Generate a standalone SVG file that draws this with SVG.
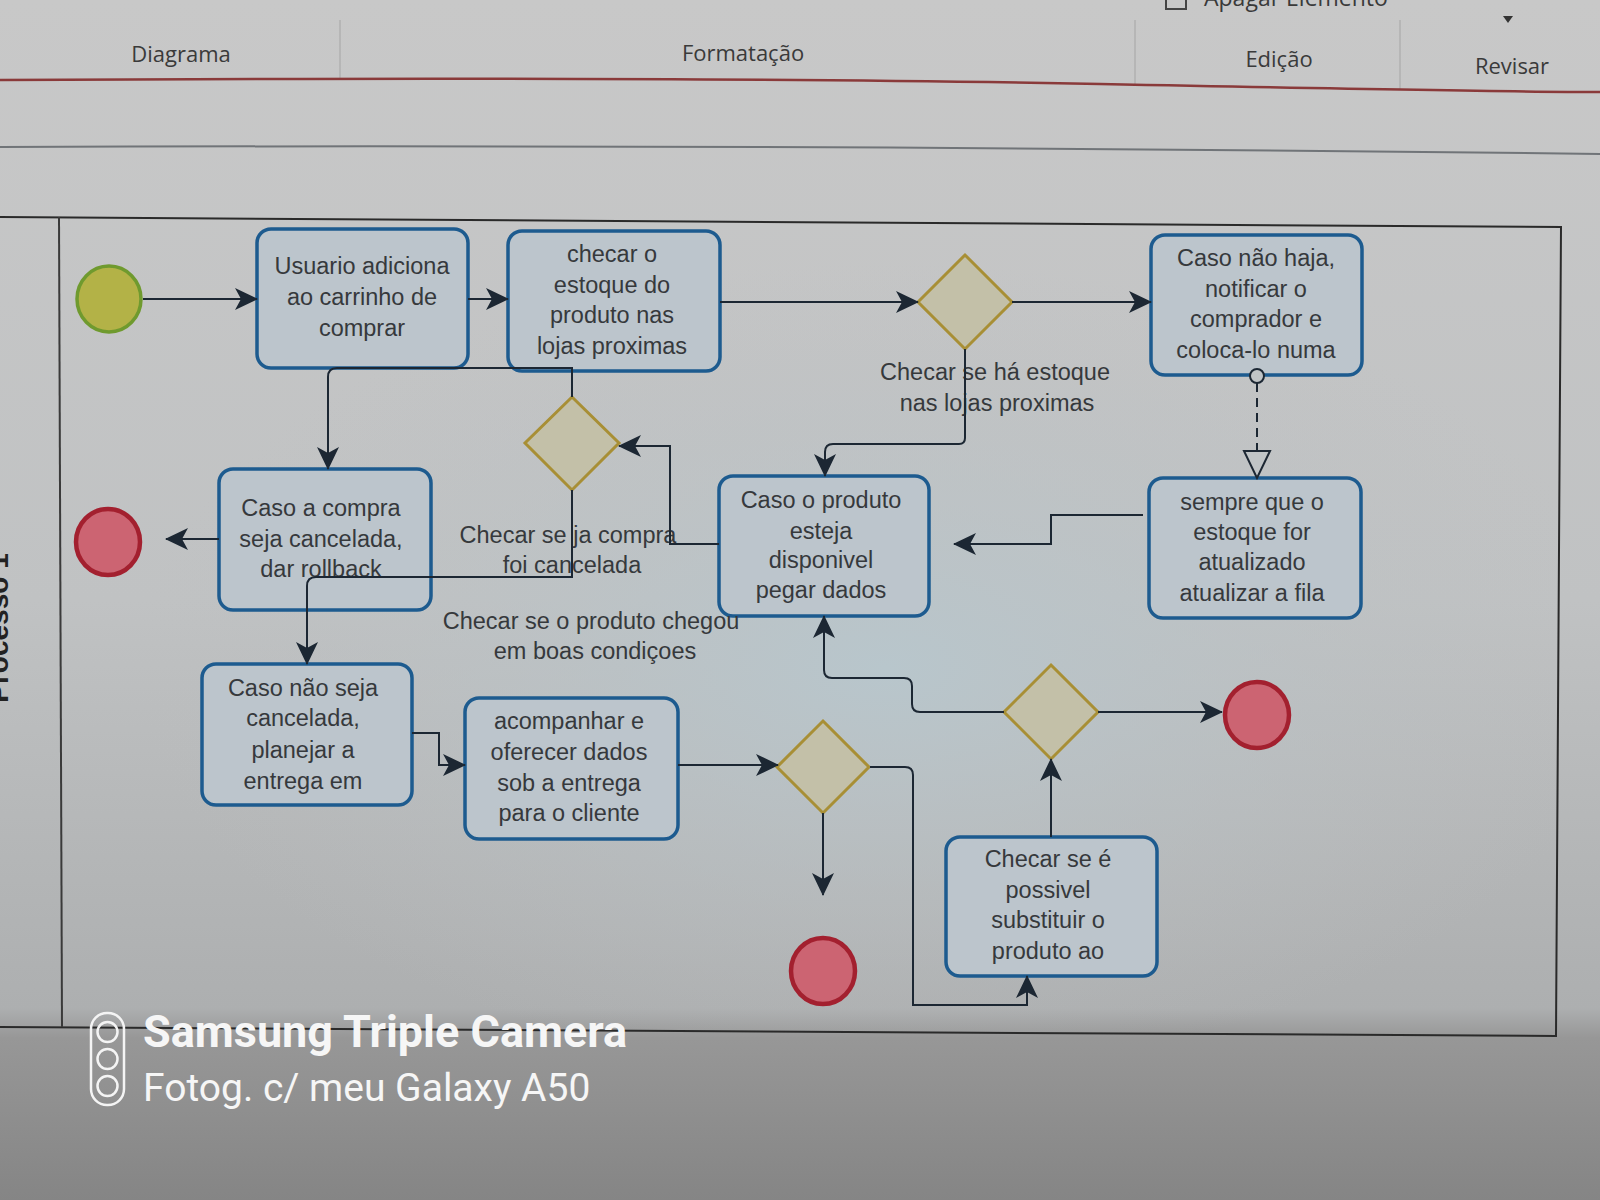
<svg xmlns="http://www.w3.org/2000/svg" width="1600" height="1200" viewBox="0 0 1600 1200">
<defs>
<linearGradient id="bg" x1="0" y1="0" x2="0" y2="1">
<stop offset="0" stop-color="#c8c8c8"/>
<stop offset="0.5" stop-color="#c0c2c3"/>
<stop offset="0.84" stop-color="#adafb0"/>
<stop offset="0.865" stop-color="#979797"/>
<stop offset="1" stop-color="#858585"/>
</linearGradient>
<radialGradient id="tint" cx="0.55" cy="0.55" r="0.5">
<stop offset="0" stop-color="#b8c6cc"/>
<stop offset="1" stop-color="#bdbfc0" stop-opacity="0"/>
</radialGradient>
<marker id="arr" markerUnits="userSpaceOnUse" markerWidth="24" markerHeight="24" viewBox="0 0 24 24" refX="22" refY="12" orient="auto">
<path d="M0,1 L23,12 L0,23 L6,12 Z" fill="#1c2733"/>
</marker>
<marker id="open" markerUnits="userSpaceOnUse" markerWidth="30" markerHeight="30" viewBox="0 0 30 30" refX="28" refY="15" orient="auto">
<path d="M1,2 L28,15 L1,28 Z" fill="#c0c4c6" stroke="#1c2733" stroke-width="2"/>
</marker>
<style>
.task{fill:#bcc5cc;stroke:#1d5b8f;stroke-width:3.5}
.gw{fill:#c3c0a8;stroke:#a88f35;stroke-width:3}
.start{fill:#b3b247;stroke:#6f9a2e;stroke-width:3.5}
.end{fill:#cc6472;stroke:#a3202f;stroke-width:4.5}
.t{font-family:"Liberation Sans",Arial,sans-serif;font-size:23.5px;fill:#36393c;text-anchor:middle}
.tb{font-family:"Open Sans","Liberation Sans",sans-serif;font-size:22px;fill:#3a3a3a;text-anchor:middle}
.c{fill:none;stroke:#1c2733;stroke-width:2}
.ca{fill:none;stroke:#1c2733;stroke-width:2;marker-end:url(#arr)}
</style>
</defs>

<rect x="0" y="0" width="1600" height="1200" fill="url(#bg)"/>
<rect x="60" y="222" width="1500" height="810" fill="url(#tint)"/>

<g id="toolbar">
<line x1="340" y1="20" x2="340" y2="80" stroke="#b0b0b0" stroke-width="1.5"/>
<line x1="1135" y1="20" x2="1135" y2="86" stroke="#b0b0b0" stroke-width="1.5"/>
<line x1="1400" y1="20" x2="1400" y2="90" stroke="#b0b0b0" stroke-width="1.5"/>
<rect x="1166" y="-8" width="20" height="17" fill="none" stroke="#444" stroke-width="2"/>
<text x="1204" y="6" font-family="'Open Sans','Liberation Sans',sans-serif" font-size="23" fill="#3a3a3a">Apagar Elemento</text>
<path d="M1503,16 L1513,16 L1508,23 Z" fill="#333"/>
<text class="tb" x="181" y="62">Diagrama</text>
<text class="tb" x="743" y="61">Formatação</text>
<text class="tb" x="1279" y="67">Edição</text>
<text class="tb" x="1512" y="74">Revisar</text>
<path d="M0,80 Q700,76 1100,84 T1600,92" fill="none" stroke="#8a3a3a" stroke-width="2.5"/>
<path d="M0,147 Q800,144 1600,154" fill="none" stroke="#707478" stroke-width="2"/>
</g>

<g id="pool">
<path d="M0,217 L1561,227 L1556,1036 L0,1027" fill="none" stroke="#2a2a2a" stroke-width="2"/>
<line x1="59" y1="217" x2="62" y2="1027" stroke="#3a3a3a" stroke-width="2"/>
<text x="8" y="628" transform="rotate(-90 8 628)" font-family="'Liberation Sans',sans-serif" font-size="28" font-weight="bold" fill="#222" text-anchor="middle">Processo 1</text>
</g>

<g id="start">
<ellipse class="start" cx="109" cy="299" rx="32" ry="33"/>
</g>

<g id="task-usuario">
<rect class="task" x="257" y="229" width="211" height="139" rx="14"/>
<text class="t" x="362" y="274">Usuario adiciona</text>
<text class="t" x="362" y="305">ao carrinho de</text>
<text class="t" x="362" y="336">comprar</text>
</g>

<g id="task-checar-estoque">
<rect class="task" x="508" y="231" width="212" height="140" rx="14"/>
<text class="t" x="612" y="262">checar o</text>
<text class="t" x="612" y="293">estoque do</text>
<text class="t" x="612" y="323">produto nas</text>
<text class="t" x="612" y="354">lojas proximas</text>
</g>

<g id="gw-estoque">
<path class="gw" d="M965,255 L1012,302 L965,349 L918,302 Z"/>
<text class="t" x="995" y="380">Checar se há estoque</text>
<text class="t" x="997" y="411">nas lojas proximas</text>
</g>

<g id="task-nao-haja">
<rect class="task" x="1151" y="235" width="211" height="140" rx="14"/>
<text class="t" x="1256" y="266">Caso não haja,</text>
<text class="t" x="1256" y="297">notificar o</text>
<text class="t" x="1256" y="327">comprador e</text>
<text class="t" x="1256" y="358">coloca-lo numa</text>
</g>

<g id="gw-cancelada">
<path class="gw" d="M572,397 L619,443 L572,490 L525,443 Z"/>
<text class="t" x="568" y="543">Checar se ja compra</text>
<text class="t" x="572" y="573">foi cancelada</text>
</g>

<g id="task-rollback">
<rect class="task" x="219" y="469" width="212" height="141" rx="14"/>
<text class="t" x="321" y="516">Caso a compra</text>
<text class="t" x="321" y="547">seja cancelada,</text>
<text class="t" x="321" y="577">dar rollback</text>
</g>

<g id="end-cancel">
<ellipse class="end" cx="108" cy="542" rx="32" ry="33"/>
</g>

<g id="task-disponivel">
<rect class="task" x="719" y="476" width="210" height="140" rx="14"/>
<text class="t" x="821" y="508">Caso o produto</text>
<text class="t" x="821" y="539">esteja</text>
<text class="t" x="821" y="568">disponivel</text>
<text class="t" x="821" y="598">pegar dados</text>
</g>

<g id="task-fila">
<rect class="task" x="1149" y="478" width="212" height="140" rx="14"/>
<text class="t" x="1252" y="510">sempre que o</text>
<text class="t" x="1252" y="540">estoque for</text>
<text class="t" x="1252" y="570">atualizado</text>
<text class="t" x="1252" y="601">atualizar a fila</text>
</g>

<g id="label-chegou">
<text class="t" x="591" y="629">Checar se o produto chegou</text>
<text class="t" x="595" y="659">em boas condiçoes</text>
</g>

<g id="task-planejar">
<rect class="task" x="202" y="664" width="210" height="141" rx="14"/>
<text class="t" x="303" y="696">Caso não seja</text>
<text class="t" x="303" y="726">cancelada,</text>
<text class="t" x="303" y="758">planejar a</text>
<text class="t" x="303" y="789">entrega em</text>
</g>

<g id="task-acompanhar">
<rect class="task" x="465" y="698" width="213" height="141" rx="14"/>
<text class="t" x="569" y="729">acompanhar e</text>
<text class="t" x="569" y="760">oferecer dados</text>
<text class="t" x="569" y="791">sob a entrega</text>
<text class="t" x="569" y="821">para o cliente</text>
</g>

<g id="gw-chegou">
<path class="gw" d="M823,721 L869,767 L823,813 L777,767 Z"/>
</g>

<g id="gw-substituir">
<path class="gw" d="M1051,665 L1098,712 L1051,759 L1004,712 Z"/>
</g>

<g id="end-right">
<ellipse class="end" cx="1257" cy="715" rx="32" ry="33"/>
</g>

<g id="end-bottom">
<ellipse class="end" cx="823" cy="971" rx="32" ry="33"/>
</g>

<g id="task-substituir">
<rect class="task" x="946" y="837" width="211" height="139" rx="14"/>
<text class="t" x="1048" y="867">Checar se é</text>
<text class="t" x="1048" y="898">possivel</text>
<text class="t" x="1048" y="928">substituir o</text>
<text class="t" x="1048" y="959">produto ao</text>
</g>

<g id="connectors">
<path class="ca" d="M143,299 H257"/>
<path class="ca" d="M468,299 H508"/>
<path class="ca" d="M720,302 H918"/>
<path class="ca" d="M1012,302 H1151"/>
<path class="ca" d="M965,349 V438 Q965,444 959,444 H833 Q825,444 825,452 V476"/>
<path d="M1257,383 V478" fill="none" stroke="#1c2733" stroke-width="2" stroke-dasharray="9,6" marker-end="url(#open)"/>
<circle cx="1257" cy="376" r="7" fill="#c0c4c6" stroke="#1c2733" stroke-width="2"/>
<path class="ca" d="M1143,515 H1051 V544 H954"/>
<path class="ca" d="M719,544 H670 V446 H619"/>
<path class="ca" d="M572,397 V368 H337 Q328,368 328,377 V469"/>
<path class="ca" d="M572,490 V577 H316 Q307,577 307,586 V664"/>
<path class="ca" d="M219,539 H166"/>
<path class="ca" d="M412,733 H439 V765 H465"/>
<path class="ca" d="M678,765 H778"/>
<path class="ca" d="M823,813 V895"/>
<path class="ca" d="M870,767 H905 Q913,767 913,775 V1005 H1027 V976"/>
<path class="ca" d="M1051,837 V759"/>
<path class="ca" d="M1098,712 H1222"/>
<path class="ca" d="M1004,712 H920 Q912,712 912,704 V686 Q912,678 904,678 H832 Q824,678 824,670 V616"/>
</g>

<g id="watermark">
<rect x="91" y="1013" width="33" height="92" rx="16" fill="none" stroke="#f4f4f4" stroke-width="2.5"/>
<circle cx="107.5" cy="1032" r="10" fill="none" stroke="#f4f4f4" stroke-width="2.5"/>
<circle cx="107.5" cy="1059" r="10" fill="none" stroke="#f4f4f4" stroke-width="2.5"/>
<circle cx="107.5" cy="1086" r="10" fill="none" stroke="#f4f4f4" stroke-width="2.5"/>
<text x="143" y="1047" font-family="Roboto,'Noto Sans',sans-serif" font-size="45" font-weight="bold" fill="#f6f6f6">Samsung Triple Camera</text>
<text x="143" y="1101" font-family="Roboto,'Noto Sans',sans-serif" font-size="39" fill="#f6f6f6">Fotog. c/ meu Galaxy A50</text>
</g>
</svg>
